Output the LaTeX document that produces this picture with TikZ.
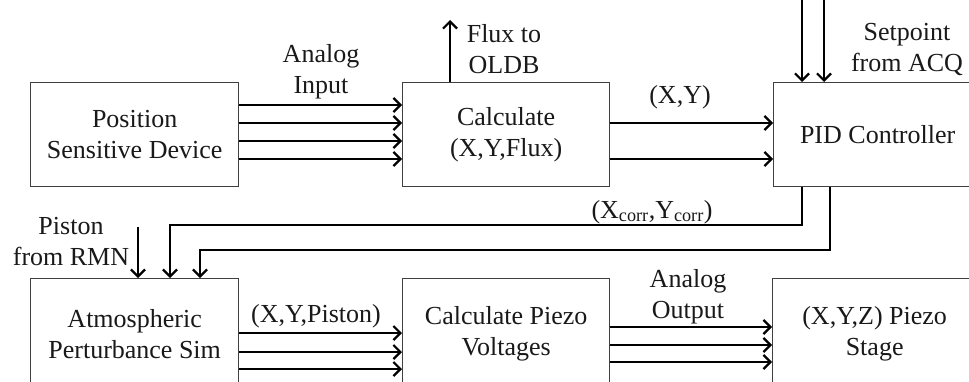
\documentclass[tikz,border=0pt]{standalone}
\usepackage{fontspec}
\setmainfont{Liberation Serif}
\usetikzlibrary{arrows.meta,calc}
\begin{document}
\begin{tikzpicture}[x=1pt,y=-1pt,
  box/.style={draw=black!75,line width=1.3pt,fill=white,minimum width=208pt,minimum height=104pt,anchor=north west,inner sep=0pt,align=center,font=\fontsize{26}{31}\selectfont,text=black!90},
  lbl/.style={align=center,inner sep=0pt,font=\fontsize{26}{31}\selectfont,text=black!90},
  arr/.style={line width=2.4pt,-{Straight Barb[length=7pt,width=14pt,line width=2.2pt]}},
  wire/.style={line width=2.4pt}]
\useasboundingbox (0,0) rectangle (969,381);
\clip (0,0) rectangle (969,381);
% boxes
\node[box] (psd) at (30,82) {Position\\Sensitive Device};
\node[box,minimum width=207pt] (calc) at (402,82) {Calculate\\(X,Y,Flux)};
\node[box] (pid) at (773,82) {PID Controller};
\node[box,minimum height=110pt] (atm) at (30,278) {Atmospheric\\Perturbance Sim};
\node[box,minimum width=207pt,minimum height=110pt] (piezo) at (402,278) {Calculate Piezo\\Voltages};
\node[box,minimum width=204pt,minimum height=110pt] (stage) at (772,278) {(X,Y,Z) Piezo\\Stage};
% analog input
\foreach \dy in {23,41,59,77}
  \draw[arr] ($(psd.north east)+(0,\dy)$) -- ($(calc.north west)+(0,\dy)$);
\node[lbl] (ain) at (321,72) {Analog\\Input};
% flux
\coordinate (fluxend) at ($(calc.north west)+(48,-62)$);
\draw[arr] ($(calc.north west)+(48,0)$) -- (fluxend);
\node[lbl] (flux) at (504,49) {Flux to\\OLDB};
% X,Y
\foreach \dy in {41,77}
  \draw[arr] ($(calc.north east)+(0,\dy)$) -- ($(pid.north west)+(0,\dy)$);
\node[lbl] (xy) at (680,97) {(X,Y)};
% setpoint
\coordinate (sp1) at ($(pid.north west)+(29,-90)$);
\coordinate (sp2) at ($(pid.north west)+(51,-90)$);
\draw[arr] (sp1) -- ($(pid.north west)+(29,0)$);
\draw[arr] (sp2) -- ($(pid.north west)+(51,0)$);
\node[lbl] (spl) at (907,49) {Setpoint\\from ACQ};
% feedback
\draw[arr] ($(pid.south west)+(29,0)$) |- ($(atm.north west)+(140,-53)$) -- ($(atm.north west)+(140,0)$);
\draw[arr] ($(pid.south west)+(57,0)$) |- ($(atm.north west)+(170,-28)$) -- ($(atm.north west)+(170,0)$);
\node[lbl] (corr) at (652,212) {(X\textsubscript{corr},Y\textsubscript{corr})};
% piston
\coordinate (pist) at ($(atm.north west)+(108,-51)$);
\draw[arr] (pist) -- ($(atm.north west)+(108,0)$);
\node[lbl] (pl) at (71,242) {Piston\\from RMN};
% X,Y,Piston
\foreach \dy in {55,74,91}
  \draw[arr] ($(atm.north east)+(0,\dy)$) -- ($(piezo.north west)+(0,\dy)$);
\node[lbl] (xyp) at (316,316) {(X,Y,Piston)};
% analog output
\foreach \dy in {49,67,84}
  \draw[arr] ($(piezo.north east)+(0,\dy)$) -- ($(stage.north west)+(0,\dy)$);
\node[lbl] (aout) at (688,297) {Analog\\Output};
\end{tikzpicture}
\end{document}
